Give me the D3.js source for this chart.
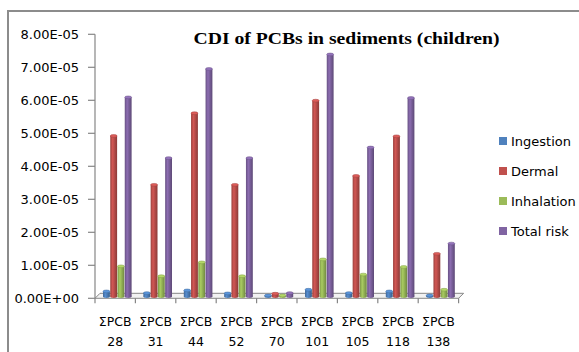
<!DOCTYPE html>
<html>
<head>
<meta charset="utf-8">
<script src="https://cdn.jsdelivr.net/npm/d3@7"></script>
<style>
  body { margin: 0; background: #fff; }
  svg { display: block; }
</style>
</head>
<body>
<div id="chart"></div>
<script>
const width = 579;
const height = 352;

// data
const categories = ["28", "31", "44", "52", "70", "101", "105", "118", "138"];
const seriesNames = ["Ingestion", "Dermal", "Inhalation", "Total risk"];
const ingestion = [2.0e-6, 1.5e-6, 2.3e-6, 1.4e-6, 0.2e-6, 2.5e-6, 1.5e-6, 2.0e-6, 0.5e-6];
const dermal = [4.91e-5, 3.43e-5, 5.60e-5, 3.43e-5, 0.13e-5, 5.98e-5, 3.70e-5, 4.90e-5, 1.34e-5];
const inhalation = [0.96e-5, 0.66e-5, 1.08e-5, 0.66e-5, 0.04e-5, 1.17e-5, 0.71e-5, 0.94e-5, 0.25e-5];
const totalRisk = [6.08e-5, 4.24e-5, 6.94e-5, 4.24e-5, 0.15e-5, 7.38e-5, 4.56e-5, 6.06e-5, 1.65e-5];
const yTicks = [0, 1e-5, 2e-5, 3e-5, 4e-5, 5e-5, 6e-5, 7e-5, 8e-5];

const seriesValues = [ingestion, dermal, inhalation, totalRisk];
const colors = ["#4F81BD", "#C0504D", "#9BBB59", "#8064A2"];

const svg = d3.select("#chart")
  .append("svg")
    .attr("width", width)
    .attr("height", height);

// outer frame (runs off the right and bottom edge)
svg.append("rect")
  .attr("x", 8).attr("y", 11)
  .attr("width", 620).attr("height", 400)
  .attr("fill", "none")
  .attr("stroke", "#8c8c8c")
  .attr("stroke-width", 2);

const x = d3.scaleBand()
  .domain(categories)
  .range([95, 458.6]);

const x1 = d3.scaleBand()
  .domain(seriesNames)
  .range([8, 37]);

const y = d3.scaleLinear()
  .domain([0, 8e-5])
  .range([298.3, 34.3]);

const axisColor = "#868686";
const depth = 5;

// cylinder shading
const defs = svg.append("defs");
colors.forEach((c, i) => {
  const g = defs.append("linearGradient")
    .attr("id", "grad" + i)
    .attr("x1", "0%").attr("x2", "100%");
  g.append("stop").attr("offset", "0%").attr("stop-color", d3.color(c).darker(0.6));
  g.append("stop").attr("offset", "35%").attr("stop-color", d3.color(c).brighter(0.25));
  g.append("stop").attr("offset", "100%").attr("stop-color", d3.color(c).darker(0.9));
});

// floor
const y0 = y(0);
svg.append("path")
  .attr("d", `M${x.range()[0]},${y0} L${x.range()[1]},${y0} L${x.range()[1] + depth},${y0 - depth} L${x.range()[0] + depth},${y0 - depth} Z`)
  .attr("fill", "#f2f2f2")
  .attr("stroke", axisColor)
  .attr("stroke-width", 1);

// y axis
svg.append("line")
  .attr("x1", 95).attr("x2", 95)
  .attr("y1", y(8e-5)).attr("y2", y0)
  .attr("stroke", axisColor).attr("stroke-width", 1.2);

yTicks.forEach(t => {
  svg.append("line")
    .attr("x1", 88).attr("x2", 95)
    .attr("y1", y(t)).attr("y2", y(t))
    .attr("stroke", axisColor).attr("stroke-width", 1.2);
  svg.append("text")
    .attr("x", 79)
    .attr("y", y(t))
    .attr("dy", "0.36em")
    .attr("text-anchor", "end")
    .style("font-family", "DejaVu Sans")
    .style("font-size", "13px")
    .attr("fill", "#000")
    .text(t === 0 ? "0.00E+00" : t.toExponential(2).replace("e-", "E-0").toUpperCase());
});

// x axis ticks and labels
const boundaries = categories.map(c => x(c)).concat([x.range()[1]]);
boundaries.forEach(b => {
  svg.append("line")
    .attr("x1", b).attr("x2", b)
    .attr("y1", y0).attr("y2", y0 + 5)
    .attr("stroke", axisColor).attr("stroke-width", 1.2);
});

categories.forEach(c => {
  const cx = x(c) + x.bandwidth() / 2;
  const label = svg.append("text")
    .attr("x", cx)
    .attr("text-anchor", "middle")
    .style("font-family", "DejaVu Sans")
    .style("font-size", "12.5px")
    .attr("fill", "#000");
  label.append("tspan").attr("x", cx).attr("y", 326).text("ΣPCB");
  label.append("tspan").attr("x", cx).attr("y", 346).text(c);
});

// bars as cylinders
const base = y0 - 1.8;
seriesNames.forEach((s, si) => {
  const g = svg.append("g");
  seriesValues[si].forEach((v, ci) => {
    const bx = x(categories[ci]) + x1(s);
    const bw = x1.bandwidth() - 0.4;
    const top = Math.min(base - 1, y(v) - 0.3);
    const rx = bw / 2, ry = 1.4;
    g.append("ellipse")
      .attr("cx", bx + rx).attr("cy", base)
      .attr("rx", rx).attr("ry", ry)
      .attr("fill", `url(#grad${si})`);
    g.append("rect")
      .attr("x", bx).attr("y", top)
      .attr("width", bw).attr("height", base - top)
      .attr("fill", `url(#grad${si})`);
    g.append("ellipse")
      .attr("cx", bx + rx).attr("cy", top)
      .attr("rx", rx).attr("ry", ry)
      .attr("fill", d3.color(colors[si]).brighter(0.4))
      .attr("stroke", d3.color(colors[si]).darker(0.5))
      .attr("stroke-width", 0.5);
  });
});

// title
svg.append("text")
  .attr("x", 193.5)
  .attr("y", 44)
  .attr("textLength", 306)
  .attr("lengthAdjust", "spacingAndGlyphs")
  .style("font-family", "Liberation Serif")
  .style("font-weight", "bold")
  .style("font-size", "17px")
  .attr("fill", "#000")
  .text("CDI of PCBs in sediments (children)");

// legend
seriesNames.forEach((s, i) => {
  const ly = 141 + i * 30;
  svg.append("rect")
    .attr("x", 499).attr("y", ly - 4)
    .attr("width", 8).attr("height", 8)
    .attr("fill", colors[i]);
  svg.append("text")
    .attr("x", 511)
    .attr("y", ly)
    .attr("dy", "0.36em")
    .style("font-family", "DejaVu Sans")
    .style("font-size", "13px")
    .attr("fill", "#000")
    .text(s);
});
</script>
</body>
</html>
